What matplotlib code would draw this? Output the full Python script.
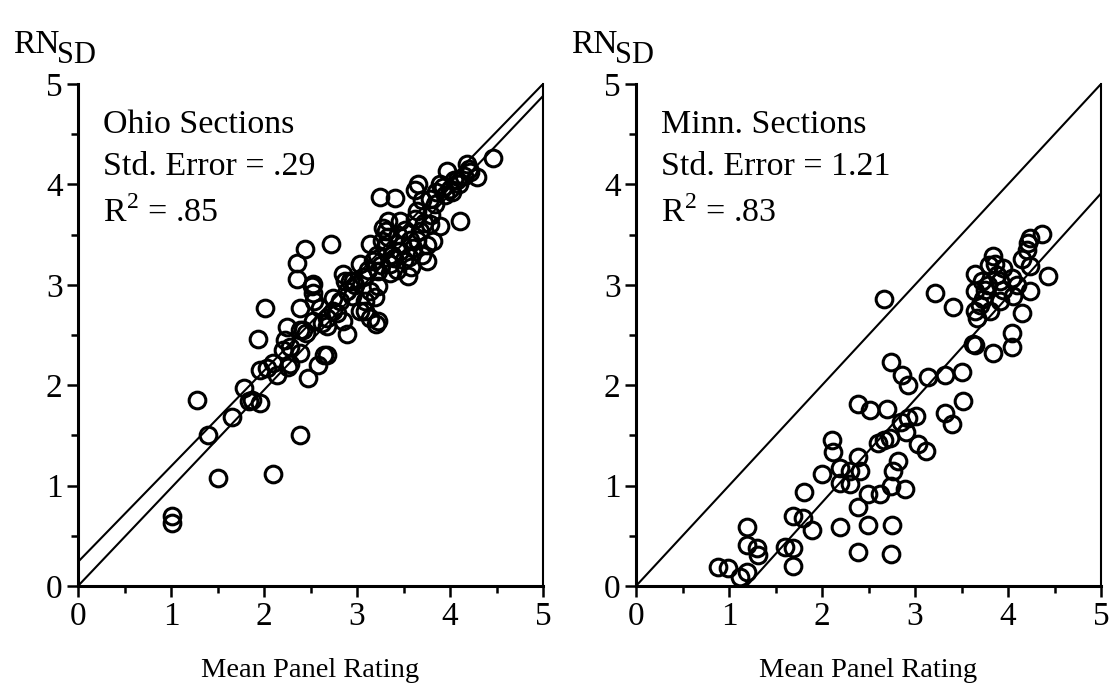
import matplotlib
matplotlib.use("Agg")
import matplotlib.pyplot as plt
from matplotlib.ticker import MultipleLocator

plt.rcParams["font.family"] = ["Liberation Serif", "DejaVu Serif"]
plt.rcParams["mathtext.fontset"] = "custom"
plt.rcParams["mathtext.rm"] = "Liberation Serif"

# Ohio sections: mean panel rating vs. RN_SD
ohio_x = [1.01, 1.01, 1.28, 1.40, 1.51, 1.66, 1.78, 1.84, 1.87, 1.96, 1.94, 1.96, 2.01, 2.03,
          2.10, 2.10, 2.14, 2.20, 2.23, 2.25, 2.26, 2.28, 2.28, 2.35, 2.35, 2.39, 2.39, 2.39,
          2.39, 2.42, 2.44, 2.47, 2.52, 2.53, 2.53, 2.53, 2.54, 2.58, 2.60, 2.65, 2.68, 2.68,
          2.68, 2.72, 2.74, 2.74, 2.82, 2.85, 2.85, 2.87, 2.89, 2.89, 2.92, 2.95, 2.96, 3.03,
          3.03, 3.09, 3.09, 3.14, 3.14, 3.14, 3.17, 3.19, 3.20, 3.23, 3.23, 3.23, 3.25, 3.27,
          3.28, 3.31, 3.33, 3.35, 3.38, 3.41, 3.43, 3.46, 3.46, 3.50, 3.55, 3.57, 3.60, 3.62,
          3.62, 3.65, 3.66, 3.68, 3.70, 3.75, 3.75, 3.78, 3.80, 3.82, 3.84, 3.89, 3.89, 3.95,
          3.97, 4.00, 4.04, 4.07, 4.11, 4.15, 4.18, 4.22, 4.29, 4.46,
          3.22, 3.26, 3.30, 3.33, 3.36, 3.40, 3.44, 3.48, 3.52, 3.56, 3.58, 3.64, 3.70, 3.72,
          3.78, 3.85, 3.92, 4.02, 4.10, 4.20, 2.98, 3.06, 2.78, 2.62, 2.45, 3.12]
ohio_y = [0.63, 0.70, 1.85, 1.50, 1.08, 1.68, 1.97, 1.84, 1.85, 1.82, 2.46, 2.15, 2.77, 2.17,
          1.12, 2.22, 2.10, 2.35, 2.45, 2.58, 2.18, 2.21, 2.38, 3.22, 3.06, 1.50, 2.32, 2.55,
          2.77, 2.55, 3.36, 2.07, 2.99, 3.01, 2.92, 2.64, 2.84, 2.20, 2.77, 2.30, 2.30, 2.59,
          2.67, 3.41, 2.74, 2.87, 2.84, 2.64, 3.11, 3.04, 2.51, 2.94, 3.04, 2.89, 3.04, 2.74,
          3.21, 2.84, 2.74, 2.94, 2.67, 3.41, 3.24, 2.88, 2.61, 2.99, 2.64, 3.14, 3.87, 3.44,
          3.57, 3.54, 3.64, 3.21, 3.30, 3.86, 3.15, 3.34, 3.64, 3.25, 3.09, 3.45, 3.37, 3.66,
          3.94, 3.74, 4.00, 3.54, 3.84, 3.24, 3.40, 3.61, 3.70, 3.44, 3.80, 4.00, 3.59, 3.89,
          4.13, 3.95, 4.04, 4.04, 3.64, 4.08, 4.20, 4.12, 4.07, 4.26,
          3.30, 3.20, 3.38, 3.48, 3.12, 3.27, 3.50, 3.40, 3.55, 3.28, 3.18, 3.45, 3.30, 3.62,
          3.85, 3.92, 3.97, 3.92, 4.00, 4.15, 3.00, 3.08, 2.72, 2.62, 2.52, 3.15]

# Minnesota sections
minn_x = [0.88, 0.99, 1.12, 1.19, 1.19, 1.19, 1.30, 1.31, 1.60, 1.69, 1.69, 1.69, 1.80, 1.81,
          1.89, 2.00, 2.11, 2.12, 2.19, 2.19, 2.19, 2.30, 2.30, 2.39, 2.41, 2.39, 2.49, 2.49,
          2.39, 2.39, 2.52, 2.60, 2.62, 2.67, 2.73, 2.76, 2.74, 2.75, 2.74, 2.70, 2.74, 2.82,
          2.85, 2.90, 2.92, 2.89, 2.92, 2.86, 3.01, 3.03, 3.12, 3.14, 2.67, 3.22, 3.32, 3.32,
          3.40, 3.41, 3.51, 3.52, 3.62, 3.65, 3.65, 3.65, 3.65, 3.67, 3.72, 3.73, 3.81, 3.84,
          3.84, 3.86, 3.91, 3.91, 3.95, 4.04, 4.04, 4.04, 4.05, 4.15, 4.15, 4.22, 4.24, 4.24,
          4.24, 4.37, 4.43,
          3.75, 3.78, 3.88, 3.70, 3.95, 4.10, 4.20, 3.80]
minn_y = [0.19, 0.18, 0.09, 0.14, 0.59, 0.41, 0.38, 0.31, 0.39, 0.38, 0.20, 0.70, 0.68, 0.94,
          0.56, 1.12, 1.45, 1.33, 1.18, 1.03, 0.59, 1.15, 1.02, 1.28, 1.15, 0.79, 0.92, 0.61,
          0.34, 1.81, 1.75, 1.42, 0.92, 1.45, 1.47, 1.15, 1.00, 0.61, 0.32, 1.76, 2.23, 1.25,
          1.63, 1.53, 1.67, 0.97, 2.00, 2.10, 1.69, 1.41, 1.34, 2.08, 2.86, 2.92, 2.10, 1.72,
          1.61, 2.78, 2.13, 1.84, 2.41, 2.40, 2.94, 3.11, 2.74, 2.67, 3.04, 2.86, 2.74, 3.29,
          2.32, 3.21, 3.04, 2.84, 3.17, 3.07, 2.52, 2.38, 2.89, 2.72, 3.26, 3.42, 3.19, 3.47,
          2.94, 3.51, 3.09,
          2.95, 3.00, 3.10, 2.80, 2.95, 3.00, 3.35, 3.20]

# Reference lines (x endpoints, y endpoints)
ohio_lines = [([0, 5], [0.0, 4.88]), ([0, 5], [0.24, 5.0])]
minn_lines = [([0, 5], [0.0, 5.0]), ([1.19, 5], [0.0, 3.91])]

ticks = [0, 1, 2, 3, 4, 5]
ohio_text = ["Ohio Sections", "Std. Error = .29", r"R$^{2}$ = .85"]
minn_text = ["Minn. Sections", "Std. Error = 1.21", r"R$^{2}$ = .83"]

fig = plt.figure(figsize=(11.17, 6.96), dpi=100)
W, H = 1117, 696
ax_l = fig.add_axes([78 / W, (H - 586) / H, 465 / W, 502 / H])
ax_r = fig.add_axes([636 / W, (H - 586) / H, 465 / W, 502 / H])


def draw_panel(ax, xs, ys, lines, texts):
    for lx, ly in lines:
        ax.plot(lx, ly, color="black", lw=1.5, solid_capstyle="butt", zorder=2)
    ax.plot(xs, ys, linestyle="none", marker="o", ms=12, mfc="none",
            mec="black", mew=2.2, zorder=3, clip_on=False)
    ax.set_xlim(0, 5)
    ax.set_ylim(0, 5)
    ax.set_xticks(ticks)
    ax.set_yticks(ticks)
    ax.xaxis.set_minor_locator(MultipleLocator(0.5))
    ax.yaxis.set_minor_locator(MultipleLocator(0.5))
    ax.tick_params(which="major", direction="out", length=8, width=1.8,
                   labelsize=24, pad=3)
    ax.tick_params(which="minor", direction="out", length=5, width=1.8)
    for side in ("left", "bottom"):
        ax.spines[side].set_linewidth(2.2)
    ax.spines["right"].set_linewidth(1.5)
    ax.spines["top"].set_visible(False)
    ax.set_xlabel("Mean Panel Rating", fontsize=20.5, labelpad=19)
    # axis title: "RN" with a full-size lowered "SD"
    ax.text(-0.14, 1.062, "RN", transform=ax.transAxes,
            fontsize=24, ha="left", va="baseline")
    ax.text(-0.045, 1.042, "SD", transform=ax.transAxes,
            fontsize=22, ha="left", va="baseline")
    for txt, yb in zip(texts, [0.902, 0.819, 0.725]):
        ax.text(0.054, yb, txt, transform=ax.transAxes, fontsize=24.5,
                ha="left", va="baseline")


draw_panel(ax_l, ohio_x, ohio_y, ohio_lines, ohio_text)
draw_panel(ax_r, minn_x, minn_y, minn_lines, minn_text)

fig.savefig("out.png", dpi=100)
